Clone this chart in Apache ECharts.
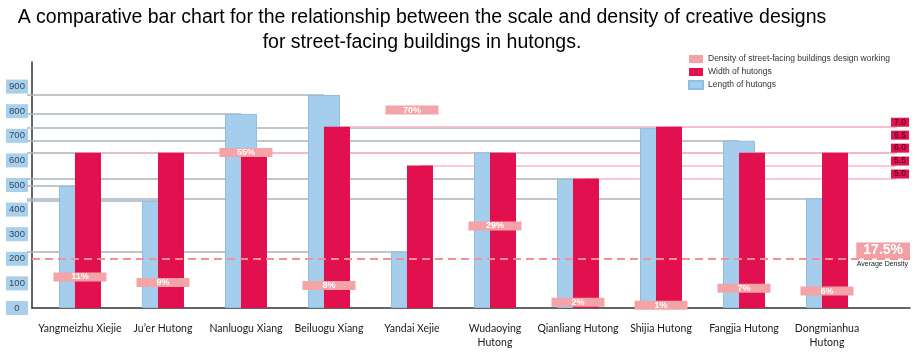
<!DOCTYPE html>
<html><head><meta charset="utf-8">
<script src="https://cdn.jsdelivr.net/npm/echarts@6/dist/echarts.min.js"></script>
<style>html,body{margin:0;padding:0;background:#fff}#c{width:917px;height:354px}</style>
</head><body><div id="c"></div>
<script>
// ---- data ----
const categories = ['Yangmeizhu Xiejie', 'Ju\u2019er Hutong', 'Nanluogu Xiang', 'Beiluogu Xiang', 'Yandai Xejie', 'Wudaoying\nHutong', 'Qianliang Hutong', 'Shijia Hutong', 'Fangjia Hutong', 'Dongmianhua\nHutong'];
const lengths = [496, 436, 789, 866, 229, 633, 525, 731, 680, 446];      // Length of hutongs (left axis)
const widths = [6.0, 6.0, 6.0, 7.0, 5.5, 6.0, 5.0, 7.0, 6.0, 6.0];      // Width of hutongs (right axis)
const density = [11, 9, 55, 8, 70, 29, 2, 1, 7, 6];                     // Density (%)
const averageDensity = 17.5;
const leftTicks = [0, 100, 200, 300, 400, 500, 600, 700, 800, 900];
const rightTicks = [5.0, 5.5, 6.0, 6.5, 7.0];
const NAME_DENSITY = 'Density of street-facing buildings design working';
const NAME_WIDTH = 'Width of hutongs';
const NAME_LENGTH = 'Length of hutongs';

// ---- layout constants ----
const X_MIN = -0.578, X_MAX = 10, PINK_END = 9.74;

const chart = echarts.init(document.getElementById('c'), null, {renderer: 'canvas'});
const option = {
  animation: false,
  backgroundColor: '#fff',
  textStyle: {fontFamily: 'Lato'},
  title: {
    text: 'A comparative bar chart for the relationship between the scale and density of creative designs\nfor street-facing buildings in hutongs.',
    left: 422, top: 5, padding: 0, textAlign: 'center',
    textStyle: {fontFamily: 'Liberation Sans', fontSize: 19.5, fontWeight: 'normal', color: '#000', lineHeight: 25}
  },
  legend: {
    orient: 'vertical', left: 688, top: 54, padding: 0,
    itemWidth: 14, itemHeight: 8, itemGap: 3, icon: 'rect',
    textStyle: {fontFamily: 'Liberation Sans', fontSize: 8.5, color: '#333', lineHeight: 10},
    data: [NAME_DENSITY, NAME_WIDTH, NAME_LENGTH]
  },
  grid: {left: 32, right: 7, top: 62, bottom: 46},
  xAxis: {
    type: 'value', min: X_MIN, max: X_MAX,
    splitLine: {show: false}, axisTick: {show: false},
    axisLine: {show: true, onZero: false, lineStyle: {color: '#333', width: 1.5}},
    axisLabel: {
      customValues: categories.map((_, i) => i),
      formatter: v => categories[v],
      fontFamily: 'Lato', fontSize: 10.5, color: '#1a1a1a', lineHeight: 14, margin: 14
    }
  },
  yAxis: [
    {
      type: 'value', min: 0, max: 1000, position: 'left',
      axisLine: {show: true, onZero: false, lineStyle: {color: '#333', width: 1.5}},
      axisTick: {show: false}, splitLine: {show: false},
      axisLabel: {
        customValues: leftTicks, margin: 4,
        formatter: '{b|{value}}',
        rich: {b: {width: 18, height: 12, lineHeight: 12, align: 'center', backgroundColor: '#a8cfec', padding: [1, 2], fontSize: 9.5, color: '#34495e', fontFamily: 'Liberation Sans'}}
      }
    },
    {
      type: 'value', min: 0, max: 9.5, position: 'right', z: 10,
      axisLine: {show: false, onZero: false}, axisTick: {show: false}, splitLine: {show: false},
      axisLabel: {
        inside: true, customValues: rightTicks, margin: 1, verticalAlign: 'bottom',
        formatter: v => '{r|' + v.toFixed(1) + '}',
        rich: {r: {width: 14, align: 'center', backgroundColor: '#e0124f', color: '#3a0010', fontSize: 8.5, lineHeight: 9, padding: [0, 2], fontFamily: 'Liberation Sans'}}
      }
    },
    {type: 'value', min: 0, max: 87, show: false}
  ],
  series: [
    {
      name: NAME_LENGTH, type: 'bar', xAxisIndex: 0, yAxisIndex: 0,
      data: lengths.map((v, i) => [i, v]),
      barWidth: 32, barGap: '-50%', z: 2,
      itemStyle: {color: '#a5cdec', borderColor: '#90bde2', borderWidth: 1},
      markLine: {
        silent: true, symbol: 'none', z: 1, label: {show: false},
        lineStyle: {color: '#a9b4be', width: 1.5, type: 'solid'},
        data: lengths.map((v, i) => [{coord: [X_MIN, v]}, {coord: [i, v]}])
      }
    },
    {
      name: NAME_WIDTH, type: 'bar', xAxisIndex: 0, yAxisIndex: 1,
      data: widths.map((v, i) => [i, v]),
      barWidth: 26, barGap: '-50%', z: 2,
      itemStyle: {color: '#e2104e'},
      markLine: {
        silent: true, symbol: 'none', z: 1, label: {show: false},
        lineStyle: {color: '#f5bac7', width: 1.5, type: 'solid'},
        data: widths.map((v, i) => [{coord: [i, v]}, {coord: [PINK_END, v]}])
      }
    },
    {
      name: NAME_DENSITY, type: 'scatter', xAxisIndex: 0, yAxisIndex: 2,
      data: density.map((v, i) => [i, v]),
      symbol: 'rect', symbolSize: [53, 9], z: 4,
      itemStyle: {color: '#f4a3a6', opacity: 1},
      label: {show: true, position: 'inside', formatter: p => p.value[1] + '%', color: '#fff', fontSize: 9, fontWeight: 'bold', fontFamily: 'Liberation Sans'},
      markLine: {
        silent: true, symbol: 'none', z: 5,
        lineStyle: {color: '#f29197', width: 2, type: [8, 5]},
        data: [
          {yAxis: averageDensity, label: {show: true, position: 'insideEndTop', distance: 0,
            formatter: () => averageDensity + '%',
            backgroundColor: '#f2a0a3', color: '#fff', fontSize: 14, fontWeight: 'bold', padding: [1, 7], fontFamily: 'Liberation Sans'}},
          {yAxis: averageDensity, label: {show: true, position: 'insideEndBottom', distance: 2,
            formatter: 'Average Density', color: '#222', fontSize: 7, fontFamily: 'Liberation Sans'}}
        ]
      }
    }
  ]
};
chart.setOption(option);
</script>
</body></html>
